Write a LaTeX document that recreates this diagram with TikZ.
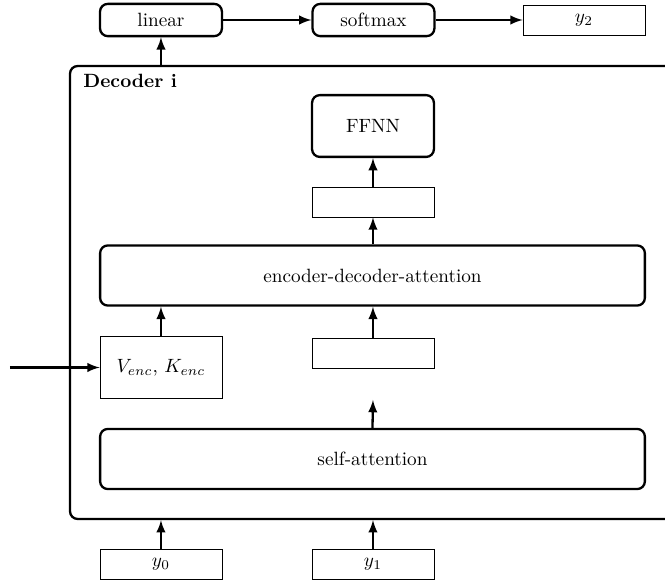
\documentclass[tikz,border=0pt]{standalone}
\usetikzlibrary{arrows}

\tikzset{
  topbox/.style={draw,very thick,rounded corners=4pt,minimum width=2.23cm,minimum height=0.59cm,inner sep=0pt},
  layer/.style={draw,very thick,rounded corners=4pt,minimum width=9.97cm,minimum height=1.1cm,inner sep=0pt},
  vecbox/.style={draw,minimum width=2.23cm,minimum height=0.55cm,inner sep=0pt},
  link/.style={very thick,-{latex[scale=1.2]}}
}

\begin{document}
\begin{tikzpicture}
	\useasboundingbox (0,0) rectangle (12.17,-10.67);
	% output row
	\node[topbox] (linear) at (2.946,-0.366) {linear};
	\node[topbox] (softmax) at (6.835,-0.366) {softmax};
	\node[vecbox] (ytwo) at (10.687,-0.366) {$y_2$};
	% decoder frame
	\node[draw,very thick,rounded corners=4pt,minimum width=11.53cm,minimum height=8.29cm] (dec) at (7.046,-5.353) {};
	\node[anchor=base west,inner sep=0pt] (dectitle) at (1.519,-1.61) {\textbf{Decoder i}};
	\node[topbox,minimum height=1.13cm] (ffnn) at (6.826,-2.306) {FFNN};
	\node[vecbox] (zone) at (6.826,-3.697) {};
	\node[layer] (eda) at (6.817,-5.042) {encoder-decoder-attention};
	\node[vecbox,minimum height=1.12cm] (venc) at (2.946,-6.725) {$V_{enc}$, $K_{enc}$};
	\node[vecbox] (ztwo) at (6.826,-6.46) {};
	\node[layer] (selfatt) at (6.817,-8.4) {self-attention};
	% inputs
	\node[vecbox] (yzero) at (2.946,-10.321) {$y_0$};
	\node[vecbox] (yone) at (6.826,-10.321) {$y_1$};
	\coordinate (encin) at (0.183,-6.725);
	\coordinate (saout) at (6.826,-7.32);

	\draw[link] (yzero.north) -- (yzero.north |- dec.south);
	\draw[link] (yone.north) -- (yone.north |- dec.south);
	\draw[link] (selfatt.north) -- (saout);
	\draw[link] (encin) -- (venc.west);
	\draw[link] (venc.north) -- (venc.north |- eda.south);
	\draw[link] (ztwo.north) -- (ztwo.north |- eda.south);
	\draw[link] (zone.south |- eda.north) -- (zone.south);
	\draw[link] (zone.north) -- (ffnn.south);
	\draw[link] (linear.south |- dec.north) -- (linear.south);
	\draw[link] (linear.east) -- (softmax.west);
	\draw[link] (softmax.east) -- (ytwo.west);
\end{tikzpicture}
\end{document}
